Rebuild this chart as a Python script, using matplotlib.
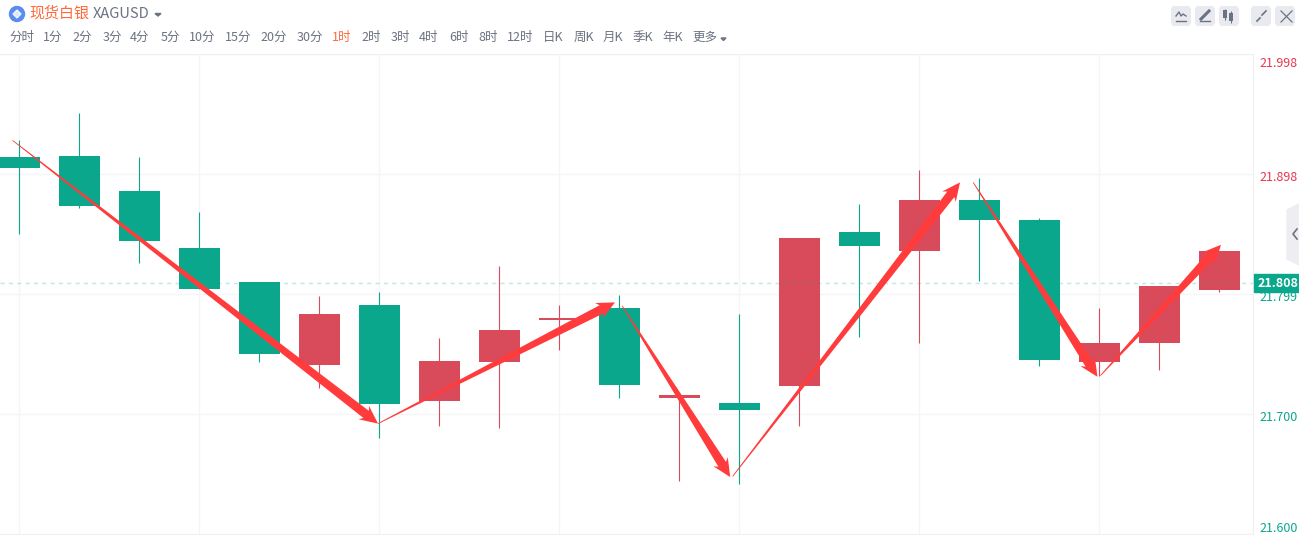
import numpy as np
import matplotlib
matplotlib.use('Agg')
import matplotlib.pyplot as plt
from matplotlib.patches import FancyBboxPatch, Polygon, Circle
from matplotlib.transforms import IdentityTransform

plt.rcParams['font.family'] = ['Noto Sans CJK SC', 'DejaVu Sans']

# velas de 1 hora, precios
apertura = [21.914, 21.915, 21.886, 21.838, 21.810, 21.741, 21.791, 21.711, 21.743, 21.778, 21.788,
            21.713, 21.709, 21.723, 21.852, 21.836, 21.878, 21.862, 21.743, 21.759, 21.803]
cierre = [21.905, 21.873, 21.844, 21.804, 21.750, 21.783, 21.708, 21.744, 21.770, 21.780, 21.724,
          21.716, 21.703, 21.847, 21.840, 21.878, 21.862, 21.745, 21.759, 21.807, 21.836]
maximo = [21.928, 21.951, 21.914, 21.868, 21.810, 21.798, 21.802, 21.763, 21.823, 21.791, 21.799,
          21.716, 21.783, 21.847, 21.875, 21.903, 21.897, 21.863, 21.788, 21.807, 21.836]
minimo = [21.850, 21.872, 21.826, 21.804, 21.743, 21.722, 21.680, 21.690, 21.688, 21.753, 21.713,
          21.644, 21.642, 21.690, 21.764, 21.759, 21.811, 21.740, 21.732, 21.737, 21.802]

# trazos de la onda dibujados a mano (indice de vela, precio)
flechas = [((-0.11, 21.928), (5.98, 21.692)),
           ((5.98, 21.692), (9.93, 21.793)),
           ((10.05, 21.790), (11.85, 21.6475)),
           ((11.89, 21.648), (15.68, 21.893)),
           ((15.9, 21.893), (17.97, 21.731)),
           ((18.02, 21.732), (20.03, 21.841))]

precio_actual = 21.809
etiquetas = ['21.998', '21.898', '21.799', '21.700', '21.600']
etiquetas_y = [21.992, 21.897, 21.797, 21.697, 21.605]
periodos = ['分时', '1分', '2分', '3分', '4分', '5分', '10分', '15分', '20分', '30分', '1时', '2时',
            '3时', '4时', '6时', '8时', '12时', '日K', '周K', '月K', '季K', '年K', '更多']
periodos_x = [22, 53, 82, 112, 140, 170, 202, 238, 274, 310, 342, 371, 400, 429, 459, 488, 520,
              553, 584, 613, 643, 673, 705]

VERDE = '#0aa78d'
ROJO = '#d94b5b'
FLECHA = '#ff3b3b'
GRIS = '#6b7280'

W, H = 1299, 555
fig = plt.figure(figsize=(W / 100, H / 100), dpi=100, facecolor='white')

# capa en pixeles para la cabecera y los botones
capa = fig.add_axes([0, 0, 1, 1])
capa.set_xlim(0, W)
capa.set_ylim(H, 0)
capa.axis('off')

capa.add_patch(Circle((17, 14), 7.5, color='#5b8def'))
capa.add_patch(Polygon([(17, 10), (21, 14), (17, 18), (13, 14)], color='white', alpha=0.8))
capa.text(29, 13.5, '现货白银', color='#ff6a3c', fontsize=10.8, va='center')
capa.text(93, 13.5, 'XAGUSD', color=GRIS, fontsize=10.5, va='center')
capa.add_patch(Polygon([(155, 13.5), (161, 13.5), (158, 16)], color=GRIS))
for texto, x in zip(periodos, periodos_x):
    color = '#ff6a3c' if texto == '1时' else GRIS
    capa.text(x, 37.5, texto, color=color, fontsize=9, ha='center', va='center')
capa.add_patch(Polygon([(721, 38), (726, 38), (723.5, 40.5)], color=GRIS))

# botones de arriba a la derecha
for x in [1171, 1195, 1219, 1251, 1275]:
    capa.add_patch(FancyBboxPatch((x + 2, 8), 16, 16, boxstyle='round,pad=2,rounding_size=4',
                                  fc='#e8eaf0', ec='none'))
capa.plot([1176, 1186], [20.5, 20.5], color=GRIS, lw=1)
capa.plot([1176, 1179, 1181, 1183, 1186], [16, 12, 16, 14, 16], color=GRIS, lw=1)
capa.plot([1201, 1209], [19, 11], color=GRIS, lw=2.2)
capa.plot([1200, 1210], [20.5, 20.5], color=GRIS, lw=1)
capa.bar([1225, 1231], [8, 8], 3.5, [10, 13], color=GRIS)
capa.vlines([1225, 1231], [9, 11], [20, 23], color=GRIS, lw=0.8)
capa.plot([1257, 1260], [21, 18], color=GRIS, lw=1.2)
capa.plot([1262, 1266], [15, 11], color=GRIS, lw=1.2)
capa.plot([1281, 1292], [11, 22], color=GRIS, lw=0.9)
capa.plot([1281, 1292], [22, 11], color=GRIS, lw=0.9)

# pestana lateral
capa.add_patch(Polygon([(1299, 204), (1287, 210), (1287, 259), (1299, 265)], color='#eeeef2'))
capa.plot([1297, 1293, 1297], [229, 234, 239], color=GRIS, lw=1.2)

# grafico de velas
ax = fig.add_axes([0, (H - 534) / H, 1253 / W, 480 / H])
ax.patch.set_alpha(0)
ax.set_xlim(-0.32, 20.563)
ax.set_ylim(21.6, 22.0)
ax.set_xticks(np.arange(0, 21, 3))
ax.set_yticks([21.6, 21.7, 21.8, 21.9, 22.0])
ax.tick_params(length=0, labelleft=False, labelbottom=False)
ax.grid(True, color='#f5f5f7', lw=1)
ax.set_axisbelow(True)
ax.spines['left'].set_visible(False)
for lado in ['top', 'bottom', 'right']:
    ax.spines[lado].set_color('#f0f0f3')

for i in range(len(apertura)):
    color = ROJO if cierre[i] >= apertura[i] else VERDE
    ax.vlines(i, minimo[i], maximo[i], color=color, lw=0.8, zorder=2)
    ax.bar(i, abs(cierre[i] - apertura[i]), 0.683, min(apertura[i], cierre[i]), color=color, zorder=3)

ax.axhline(precio_actual, color=VERDE, alpha=0.25, lw=1, ls=(0, (3, 3)), zorder=4)

# flechas: empiezan finas y se ensanchan hasta la punta
fig.canvas.draw()
for ini, fin in flechas:
    p0, p1 = ax.transData.transform([ini, fin])
    d = (p1 - p0) / np.hypot(*(p1 - p0))
    n = np.array([-d[1], d[0]])
    base = p1 - d * 15
    puntos = [p0 + n * 0.4, base + n * 4.5, base + n * 8.5 - d * 3, p1,
              base - n * 8.5 - d * 3, base - n * 4.5, p0 - n * 0.4]
    ax.add_patch(Polygon(puntos, closed=True, color=FLECHA, lw=0, transform=IdentityTransform(),
                         clip_on=False, zorder=5))

# etiquetas de precio a la derecha
for texto, y in zip(etiquetas, etiquetas_y):
    color = '#e8364f' if float(texto) > precio_actual else VERDE
    ax.text(1.0 + 6 / 1253, y, texto, color=color, fontsize=9, ha='left', va='center',
            transform=ax.get_yaxis_transform(), clip_on=False, zorder=6)

capa2 = fig.add_axes([0, 0, 1, 1])
capa2.set_xlim(0, W)
capa2.set_ylim(H, 0)
capa2.axis('off')
capa2.add_patch(plt.Rectangle((1254, 274), 45, 18, color=VERDE))
capa2.text(1278, 283.5, '21.808', color='white', fontsize=9, fontweight='bold',
           ha='center', va='center')

fig.savefig('out.png', dpi=100)
